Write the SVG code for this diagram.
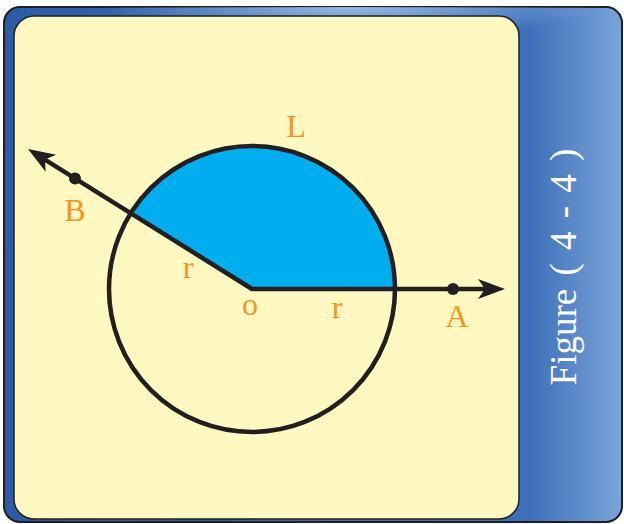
<svg xmlns="http://www.w3.org/2000/svg" width="624" height="524" viewBox="0 0 624 524">
<style>
.lbl{font-family:"Liberation Serif","Times New Roman",serif;font-size:32px;fill:#F7941D;text-anchor:middle}
.ln{stroke:#231F20;stroke-width:4.5;fill:none;stroke-linejoin:round}
.ah{fill:#231F20}
</style>
<defs>
<linearGradient id="bg" x1="0" y1="0" x2="1" y2="0">
<stop offset="0" stop-color="#2C5BA8"/>
<stop offset="0.5" stop-color="#3B6BB6"/>
<stop offset="0.85" stop-color="#3E6FBA"/>
<stop offset="1" stop-color="#7AA5D8"/>
</linearGradient>
<radialGradient id="hl" cx="0.5" cy="0" r="0.5">
<stop offset="0" stop-color="#9CC4E8" stop-opacity="0.9"/>
<stop offset="1" stop-color="#9CC4E8" stop-opacity="0"/>
</radialGradient>
<path id="head" d="M0,0 L-27,-10 L-20,0 L-27,10 Z"/>
</defs>
<g id="frame">
<rect x="4" y="7" width="618" height="515" rx="16" fill="url(#bg)" stroke="#231F20" stroke-width="2"/>
<rect x="100" y="7" width="500" height="60" fill="url(#hl)"/>
<rect x="14" y="16" width="505" height="503" rx="20" fill="#FFF9C1" stroke="#231F20" stroke-width="1.5"/>
</g>
<g id="sector">
<path d="M252,289 L395,289 A143,143 0 0,0 130.7,213.2 Z" fill="#00AEEF"/>
</g>
<g id="circle">
<circle cx="252" cy="289" r="143" fill="none" stroke="#231F20" stroke-width="4.5"/>
</g>
<g id="connectors">
<polyline class="ln" points="44.1,159.1 252,289 487,289"/>
<use href="#head" class="ah" transform="translate(505 289)"/>
<use href="#head" class="ah" transform="translate(28 149) rotate(212)"/>
</g>
<g id="pointA"><circle cx="453" cy="289" r="6" fill="#231F20"/></g>
<g id="pointB"><circle cx="75" cy="178.4" r="6" fill="#231F20"/></g>
<g id="labels">
<text class="lbl" x="296" y="137">L</text>
<text class="lbl" x="75" y="221">B</text>
<text class="lbl" x="188" y="278">r</text>
<text class="lbl" x="250" y="315">o</text>
<text class="lbl" x="337" y="318">r</text>
<text class="lbl" x="457" y="327">A</text>
</g>
<g id="caption">
<text x="576" y="267" transform="rotate(-90 576 267)" style="font-family:'Liberation Serif','Times New Roman',serif;font-size:37px;word-spacing:4px;fill:#FFFFFF;text-anchor:middle">Figure ( 4 - 4 )</text>
</g>
</svg>
